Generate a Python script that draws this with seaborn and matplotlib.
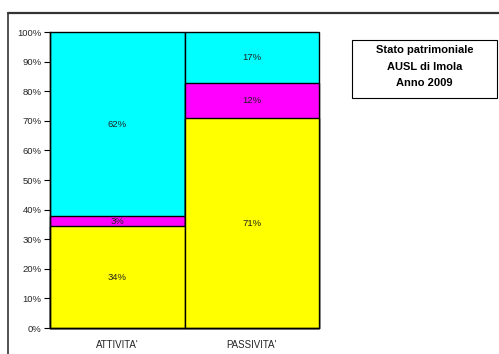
import matplotlib
matplotlib.use("Agg")
import matplotlib.pyplot as plt
from matplotlib.lines import Line2D
from matplotlib.patches import Rectangle
import seaborn as sns
import pandas as pd
import numpy as np

categories = ["ATTIVITA'", "PASSIVITA'"]
yellow_vals = [34.4, 70.8]
magenta_vals = [3.4, 11.9]
cyan_vals = [62.2, 17.3]
y_ticks = [0, 10, 20, 30, 40, 50, 60, 70, 80, 90, 100]
y_tick_labels = ["0%", "10%", "20%", "30%", "40%", "50%", "60%", "70%", "80%", "90%", "100%"]
title_lines = ["Stato patrimoniale", "AUSL di Imola", "Anno 2009"]

sns.set_style("white")
plt.rcParams["font.family"] = ["Liberation Sans", "DejaVu Sans"]

fig = plt.figure(figsize=(4.99, 3.54), dpi=100)
ax = fig.add_axes([50/499, 1-328/354, (319-50)/499, (328-32)/354])

yv = np.array(yellow_vals)
mv = np.array(magenta_vals)
cv = np.array(cyan_vals)
df = pd.DataFrame({
    "cat": categories,
    "y": yv,
    "ym": yv + mv,
    "ymc": yv + mv + cv,
})

common = dict(x="cat", order=categories, width=1.0, edgecolor="black",
              linewidth=1.0, ax=ax, errorbar=None)
sns.barplot(data=df, y="ymc", color="#00FFFF", saturation=1, **common)
sns.barplot(data=df, y="ym", color="#FF00FF", saturation=1, **common)
sns.barplot(data=df, y="y", color="#FFFF00", saturation=1, **common)
for p in ax.patches:
    p.set_clip_on(False)

# segment labels
for i in range(len(categories)):
    bottoms = [0, yv[i], yv[i] + mv[i]]
    vals = [yv[i], mv[i], cv[i]]
    for b, v in zip(bottoms, vals):
        ax.text(i, b + v / 2, f"{round(v):.0f}%", ha="center", va="center",
                fontsize=6.8, color="#222222")

ax.set_xlim(-0.5, 1.5)
ax.set_ylim(0, 100)
ax.set_yticks(y_ticks)
ax.set_yticklabels(y_tick_labels, fontsize=6.8)
ax.set_xticks(range(len(categories)))
ax.set_xticklabels(categories, fontsize=7)
ax.tick_params(axis="x", which="major", length=0, pad=9)
ax.set_xticks([-0.5, 0.5, 1.5], minor=True)
ax.tick_params(axis="x", which="minor", length=4, width=0.8, color="black", direction="out")
ax.tick_params(axis="y", length=4, width=0.8, color="black", direction="out", pad=2, left=True)
ax.set_xlabel("")
ax.set_ylabel("")
for s in ["top", "right"]:
    ax.spines[s].set_visible(False)
for s in ["left", "bottom"]:
    ax.spines[s].set_color("black")
    ax.spines[s].set_linewidth(1.0)
    ax.spines[s].set_zorder(5)

# outer frame (left and top)
fig.add_artist(Line2D([8/499, 8/499], [0, 1-13/354], color="#222222", lw=1.1,
                      transform=fig.transFigure))
fig.add_artist(Line2D([8/499, 1], [1-13/354, 1-13/354], color="#333333", lw=1.6,
                      transform=fig.transFigure))

# title box
x0, x1 = 352/499, 497/499
yb, yt = 1-98/354, 1-40/354
fig.add_artist(Rectangle((x0, yb), x1 - x0, yt - yb, transform=fig.transFigure,
                         facecolor="white", edgecolor="black", lw=0.8))
ys = [1-50/354, 1-66.7/354, 1-83.3/354]
for t, yy in zip(title_lines, ys):
    fig.text((x0 + x1) / 2, yy, t, ha="center", va="center", fontsize=8,
             fontweight="bold", color="black")

fig.savefig("out.png", dpi=100)
